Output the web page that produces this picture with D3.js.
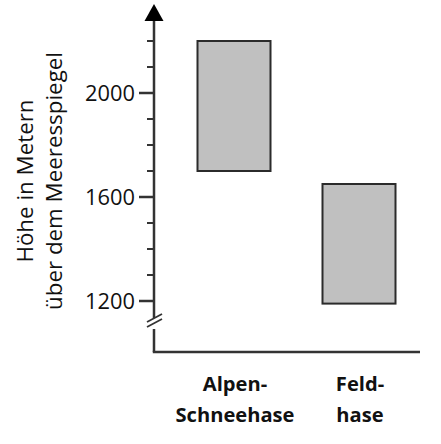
<!DOCTYPE html>
<html>
<head>
<meta charset="utf-8">
<script src="https://cdn.jsdelivr.net/npm/d3@7"></script>
<style>
  body { margin: 0; background: #fff; }
  text { font-family: "Open Sans", sans-serif; fill: #111; }
</style>
</head>
<body>
<div class="chart"></div>
<script>
// data
var species = ["Alpen-Schneehase", "Feldhase"];
var labelLines = [["Alpen-", "Schneehase"], ["Feld-", "hase"]];
var lowHeight = [1700, 1190];
var highHeight = [2200, 1650];
var majorTicks = [1200, 1600, 2000];
var minorTicks = [1300, 1400, 1500, 1700, 1800, 1900, 2100, 2200];

var width = 441, height = 444;
var axisX = 154, axisBottom = 352;

var svg = d3.select(".chart")
  .append("svg")
    .attr("width", width)
    .attr("height", height);

// y scale: 100 m = 26 px, 2000 at y=93
var y = d3.scaleLinear()
  .domain([1200, 2000])
  .range([301, 93]);

var x = d3.scaleBand()
  .domain(species)
  .range([160, 433])
  .paddingInner(0.416)
  .paddingOuter(0.3);

var data = species.map(function(d, i) {
  return {name: d, lo: lowHeight[i], hi: highHeight[i], lines: labelLines[i]};
});

// shrink/grow a text so it is about as wide as in the picture
function fitSize(sel, target) {
  var base = 20;
  sel.attr("font-size", base + "px");
  var len = sel.node().getComputedTextLength();
  return base * target / len;
}

// bars
svg.selectAll(".bar")
  .data(data)
  .enter()
  .append("rect")
    .attr("class", "bar")
    .attr("x", function(d) { return x(d.name); })
    .attr("y", function(d) { return y(d.hi); })
    .attr("width", x.bandwidth())
    .attr("height", function(d) { return y(d.lo) - y(d.hi); })
    .attr("fill", "#c0c0c0")
    .attr("stroke", "#2b2b2b")
    .attr("stroke-width", 2);

var axisColor = "#333";

// y axis line with arrow
svg.append("line")
  .attr("x1", axisX).attr("x2", axisX)
  .attr("y1", 18).attr("y2", axisBottom)
  .attr("stroke", axisColor).attr("stroke-width", 2.5);

svg.append("path")
  .attr("d", "M" + axisX + ",4 L" + (axisX + 9.5) + ",21 L" + (axisX - 9.5) + ",21 Z")
  .attr("fill", "#000");

// x axis line
svg.append("line")
  .attr("x1", axisX - 1.2).attr("x2", 420)
  .attr("y1", axisBottom).attr("y2", axisBottom)
  .attr("stroke", axisColor).attr("stroke-width", 2.5);

// ticks
svg.selectAll(".minor")
  .data(minorTicks)
  .enter()
  .append("line")
    .attr("x1", axisX - 7).attr("x2", axisX)
    .attr("y1", function(d) { return y(d); })
    .attr("y2", function(d) { return y(d); })
    .attr("stroke", axisColor).attr("stroke-width", 2);

svg.selectAll(".major")
  .data(majorTicks)
  .enter()
  .append("line")
    .attr("x1", axisX - 15).attr("x2", axisX)
    .attr("y1", function(d) { return y(d); })
    .attr("y2", function(d) { return y(d); })
    .attr("stroke", axisColor).attr("stroke-width", 2.5);

var tl = svg.selectAll(".ticklabel")
  .data(majorTicks)
  .enter()
  .append("text")
    .attr("class", "ticklabel")
    .attr("x", axisX - 19)
    .attr("y", function(d) { return y(d); })
    .attr("dy", "0.36em")
    .attr("text-anchor", "end")
    .text(function(d) { return d; });
var tickSize = fitSize(tl.filter(function(d) { return d === 2000; }), 50);
tl.attr("font-size", tickSize + "px");

// axis break
var bk = svg.append("g");
bk.append("rect")
  .attr("x", axisX - 4).attr("y", 318)
  .attr("width", 8).attr("height", 11)
  .attr("fill", "#fff");
[0, 5].forEach(function(off) {
  bk.append("line")
    .attr("x1", axisX - 7).attr("y1", 322 + off)
    .attr("x2", axisX + 8).attr("y2", 314 + off)
    .attr("stroke", axisColor).attr("stroke-width", 1.8);
});

// category labels
var cats = [];
data.forEach(function(d) {
  var cx = x(d.name) + x.bandwidth() / 2 + 1;
  var t = svg.append("text")
    .attr("text-anchor", "middle")
    .attr("font-weight", "bold");
  t.append("tspan").attr("x", cx).attr("y", 390.5).text(d.lines[0]);
  t.append("tspan").attr("x", cx).attr("y", 421.5).text(d.lines[1]);
  cats.push(t);
});
var probe = svg.append("text").attr("font-weight", "bold").text(labelLines[0][1]);
var catSize = fitSize(probe, 119);
probe.remove();
cats.forEach(function(t) { t.attr("font-size", catSize + "px"); });

// y axis title
var title = svg.append("text")
  .attr("transform", "translate(0,181) rotate(-90)")
  .attr("text-anchor", "middle");
title.append("tspan").attr("x", 0).attr("y", 33).text("Höhe in Metern");
var line2 = title.append("tspan").attr("x", 0).attr("y", 62).text("über dem Meeresspiegel");
var probe2 = svg.append("text").text("über dem Meeresspiegel");
var titleSize = fitSize(probe2, 258);
probe2.remove();
title.attr("font-size", titleSize + "px");
</script>
</body>
</html>
